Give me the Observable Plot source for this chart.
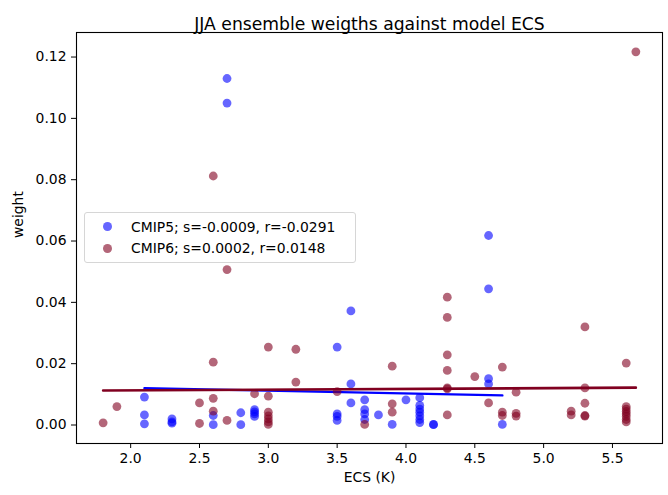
<!DOCTYPE html>
<html>
<head>
<meta charset="utf-8">
<script src="https://cdn.jsdelivr.net/npm/d3@7"></script>
<script src="https://cdn.jsdelivr.net/npm/@observablehq/plot@0.6"></script>
<style>
  body { margin: 0; background: #fff; font-family: "DejaVu Sans", sans-serif; }
  #wrap { position: relative; width: 668px; height: 495px; }
  #legend { position: absolute; left: 84px; top: 212px; width: 272px; height: 51px; box-sizing: border-box;
            border: 1px solid #d6d6d6; border-radius: 3px; background: rgba(255,255,255,0.8);
            font-size: 13.9px; color: #000; }
  .mk { position: absolute; left: 18px; width: 8.8px; height: 8.8px; border-radius: 50%; }
  .lt { position: absolute; left: 46px; white-space: nowrap; line-height: 16px; }
</style>
</head>
<body>
<div id="wrap">
  <div id="chart"></div>
  <div id="legend">
    <div class="mk" style="top:9.3px;background:rgba(0,0,255,0.6)"></div>
    <div class="lt" style="top:5.5px">CMIP5; s=-0.0009, r=-0.0291</div>
    <div class="mk" style="top:30.8px;background:rgba(128,0,32,0.6)"></div>
    <div class="lt" style="top:27px">CMIP6; s=0.0002, r=0.0148</div>
  </div>
</div>
<script>
// ---- data ----
const cmip5Ecs = [2.1,2.1,2.1, 2.3,2.3,2.3, 2.6,2.6, 2.7,2.7, 2.8,2.8, 2.9,2.9,2.9,2.9,
  3.5,3.5,3.5,3.5, 3.6,3.6,3.6, 3.7,3.7,3.7,3.7, 3.8, 3.9, 4.0,
  4.1,4.1,4.1,4.1,4.1,4.1,4.1, 4.2,4.2, 4.6,4.6,4.6,4.6, 4.7];
const cmip5Weight = [0.0091,0.0033,0.0004, 0.0020,0.0010,0.0006, 0.0031,0.0001, 0.1130,0.1050,
  0.0040,0.0001, 0.0050,0.0043,0.0036,0.0028, 0.0254,0.0036,0.0028,0.0015, 0.0372,0.0134,0.0072,
  0.0082,0.0050,0.0036,0.0018, 0.0033, 0.0002, 0.0082,
  0.0089,0.0064,0.0052,0.0042,0.0030,0.0018,0.0008, 0.0002,0.0001, 0.0618,0.0444,0.0151,0.0134, 0.0002];

const cmip6Ecs = [1.8, 1.9, 2.5,2.5, 2.6,2.6,2.6,2.6, 2.7,2.7, 2.9, 3.0,3.0,3.0,3.0,3.0,3.0,3.0,
  3.2,3.2, 3.5, 3.7, 3.9,3.9,3.9, 4.3,4.3,4.3,4.3,4.3,4.3,4.3, 4.5, 4.6, 4.7,4.7,4.7, 4.8,4.8,4.8,
  5.2,5.2, 5.3,5.3,5.3,5.3,5.3, 5.6,5.6,5.6,5.6,5.6,5.6,5.6,5.6, 5.67];
const cmip6Weight = [0.0007, 0.0060, 0.0072,0.0005, 0.0812,0.0205,0.0087,0.0045, 0.0507,0.0015, 0.0102,
  0.0254,0.0094,0.0042,0.0030,0.0020,0.0010,0.0002, 0.0247,0.0140, 0.0109, 0.0002, 0.0192,0.0069,0.0042,
  0.0417,0.0351,0.0229,0.0178,0.0121,0.0118,0.0033, 0.0158, 0.0072, 0.0189,0.0042,0.0031, 0.0107,0.0038,0.0029,
  0.0045,0.0033, 0.0320,0.0121,0.0071,0.0031,0.0029, 0.0202,0.0060,0.0052,0.0044,0.0036,0.0028,0.0018,0.0010, 0.1217];

// linear fits: [slope, intercept]
const cmip5Fit = [-0.0009, 0.0139];
const cmip6Fit = [0.00024, 0.01082];

const xTicks = [2.0, 2.5, 3.0, 3.5, 4.0, 4.5, 5.0, 5.5];
const yTicks = [0.00, 0.02, 0.04, 0.06, 0.08, 0.10, 0.12];

const titleText = "JJA ensemble weigths against model ECS";
const xLabel = "ECS (K)";
const yLabel = "weight";

// ---- build tables ----
const cmip5 = cmip5Ecs.map((x, i) => ({x, y: cmip5Weight[i]}));
const cmip6 = cmip6Ecs.map((x, i) => ({x, y: cmip6Weight[i]}));
const fitLine = (xs, [s, b]) => d3.extent(xs).map(x => ({x, y: s * x + b}));
const cmip5Line = fitLine(cmip5Ecs, cmip5Fit);
const cmip6Line = fitLine(cmip6Ecs, cmip6Fit);

const red = "#800020";

const chart = Plot.plot({
  width: 668, height: 495,
  marginLeft: 76, marginRight: 6, marginTop: 32, marginBottom: 52,
  style: {fontFamily: "DejaVu Sans, sans-serif", fontSize: "13.9px", color: "black", background: "white", overflow: "visible"},
  x: {domain: [1.6065, 5.8635]},
  y: {domain: [-0.00603, 0.128]},
  marks: [
    Plot.axisX({ticks: xTicks, tickFormat: d3.format(".1f"), tickSize: 5, tickPadding: 5, label: null, stroke: "black"}),
    Plot.axisY({ticks: yTicks, tickFormat: d3.format(".2f"), tickSize: 5, tickPadding: 5, label: null, stroke: "black"}),
    Plot.dot(cmip5, {x: "x", y: "y", r: 4.4, fill: "blue", fillOpacity: 0.6}),
    Plot.line(cmip5Line, {x: "x", y: "y", stroke: "blue", strokeWidth: 2.4}),
    Plot.dot(cmip6, {x: "x", y: "y", r: 4.4, fill: red, fillOpacity: 0.6}),
    Plot.line(cmip6Line, {x: "x", y: "y", stroke: red, strokeWidth: 2.6}),
    Plot.frame({stroke: "black", strokeWidth: 1.1}),
    Plot.text([titleText], {text: d => d, frameAnchor: "top", dy: -15, fontSize: 17.2, fill: "black"}),
    Plot.text([xLabel], {text: d => d, frameAnchor: "bottom", dy: 38, fill: "black"}),
    Plot.text([yLabel], {text: d => d, frameAnchor: "left", dx: -58, rotate: -90, fill: "black"})
  ]
});
document.getElementById("chart").append(chart);
</script>
</body>
</html>
